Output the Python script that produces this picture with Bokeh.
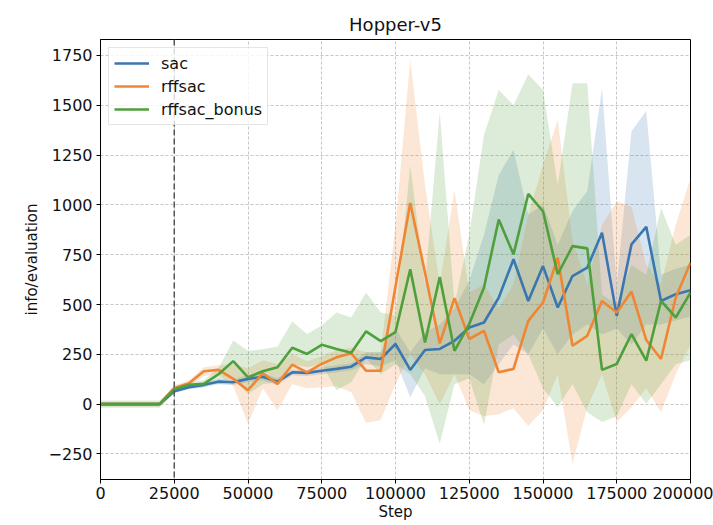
from bokeh.plotting import figure
from bokeh.models import Span, Range1d, FixedTicker
from bokeh.embed import file_html
from bokeh.resources import INLINE

TITLE = "Hopper-v5"
X_LABEL = "Step"
Y_LABEL = "info/evaluation"
WARMUP_STEP = 25000

STEPS = [0, 5000, 10000, 15000, 20000, 25000, 30000, 35000, 40000, 45000,
         50000, 55000, 60000, 65000, 70000, 75000, 80000, 85000, 90000, 95000,
         100000, 105000, 110000, 115000, 120000, 125000, 130000, 135000, 140000, 145000,
         150000, 155000, 160000, 165000, 170000, 175000, 180000, 185000, 190000, 195000,
         200000]

SERIES_NAMES = ["sac", "rffsac", "rffsac_bonus"]

SAC_MEAN = [0, 0, 0, 0, 0, 65, 85, 97, 113, 110,
            127, 138, 113, 160, 157, 168, 177, 188, 235, 227,
            302, 172, 272, 277, 318, 385, 410, 535, 727, 518,
            693, 485, 643, 685, 860, 443, 802, 890, 518, 552,
            572]
SAC_UPPER = [10, 10, 10, 10, 10, 75, 95, 110, 125, 125,
             145, 155, 130, 175, 172, 185, 195, 205, 260, 260,
             380, 260, 360, 400, 480, 620, 850, 1150, 1277, 950,
             1000, 800, 970, 1070, 1585, 600, 1370, 1472, 650, 680,
             700]
SAC_LOWER = [-10, -10, -10, -10, -10, 55, 75, 85, 100, 95,
             110, 120, 95, 145, 142, 150, 160, 170, 200, 190,
             220, 35, 180, 150, 150, 150, 100, 200, 300, 250,
             380, 250, 350, 400, 350, 380, 300, 400, 400, 420,
             440]

RFF_MEAN = [0, 0, 0, 0, 0, 80, 105, 165, 172, 127,
            70, 155, 102, 198, 160, 202, 235, 255, 168, 168,
            590, 1010, 660, 305, 532, 327, 368, 160, 177, 418,
            510, 735, 293, 343, 518, 460, 565, 322, 227, 535,
            710]
RFF_UPPER = [10, 10, 10, 10, 10, 95, 120, 185, 195, 200,
             180, 220, 200, 250, 215, 240, 270, 285, 260, 260,
             900, 1727, 1100, 600, 1075, 560, 600, 480, 600, 950,
             1200, 1427, 820, 600, 900, 1018, 990, 700, 600, 900,
             1135]
RFF_LOWER = [-10, -10, -10, -10, -10, 65, 90, 140, 150, 90,
             -98, 80, -30, 100, 80, 85, 90, 60, -95, -80,
             100, 250, 150, 0, 150, -30, -60, -50, -20, -110,
             -30, 150, -300, -15, 150, -90, -15, 80, -40, 150,
             300]

BONUS_MEAN = [0, 0, 0, 0, 0, 75, 97, 102, 150, 216,
              135, 165, 185, 283, 252, 298, 277, 258, 365, 316,
              362, 677, 310, 638, 268, 402, 585, 927, 752, 1055,
              968, 652, 793, 782, 172, 202, 352, 218, 518, 435,
              560]
BONUS_UPPER = [18, 18, 18, 18, 18, 90, 110, 120, 180, 320,
               268, 275, 290, 415, 352, 395, 460, 435, 560, 460,
               445, 1200, 600, 1468, 500, 850, 1352, 1577, 1500, 1655,
               1577, 1100, 1610, 1610, 550, 500, 700, 650, 985, 800,
               850]
BONUS_LOWER = [-18, -18, -18, -18, -18, 60, 80, 85, 115, 130,
               50, 100, 110, 200, 185, 200, 70, 110, 230, 150,
               200, 150, 40, -198, 100, 130, -105, 300, 350, 250,
               80, -15, 100, -40, -90, -60, 100, 2, 100, 200,
               220]

COLORS = ["#3a76b0", "#f08634", "#4f9f3c"]

X_TICKS = [0, 25000, 50000, 75000, 100000, 125000, 150000, 175000, 200000]
X_TICK_LABELS = ["0", "25000", "50000", "75000", "100000", "125000", "150000", "175000", "200000"]
Y_TICKS = [-250, 0, 250, 500, 750, 1000, 1250, 1500, 1750]
Y_TICK_LABELS = ["\u2212250", "0", "250", "500", "750", "1000", "1250", "1500", "1750"]

FONT = "DejaVu Sans"

p = figure(frame_width=590, frame_height=440,
           x_range=Range1d(0, 200000), y_range=Range1d(-378, 1830),
           output_backend="svg", toolbar_location=None, title=TITLE,
           min_border_left=100, min_border_right=23, min_border_top=39, min_border_bottom=44,
           background_fill_color="white", border_fill_color="white")

p.title.align = "center"
p.title.text_font = FONT
p.title.text_font_size = "18px"
p.title.text_font_style = "normal"
p.title.text_color = "#111111"
p.title.standoff = 10

series = [
    (SAC_MEAN, SAC_UPPER, SAC_LOWER),
    (RFF_MEAN, RFF_UPPER, RFF_LOWER),
    (BONUS_MEAN, BONUS_UPPER, BONUS_LOWER),
]

for (mean, upper, lower), color, name in zip(series, COLORS, SERIES_NAMES):
    p.varea(x=STEPS, y1=lower, y2=upper, fill_color=color, fill_alpha=0.2)
for (mean, upper, lower), color, name in zip(series, COLORS, SERIES_NAMES):
    p.line(x=STEPS, y=mean, line_color=color, line_width=2.6, legend_label=name)

p.add_layout(Span(location=WARMUP_STEP, dimension="height", line_color="#555555",
                  line_dash="6 3", line_width=1.5))

p.xaxis.ticker = FixedTicker(ticks=X_TICKS)
p.xaxis.major_label_overrides = dict(zip(X_TICKS, X_TICK_LABELS))
p.yaxis.ticker = FixedTicker(ticks=Y_TICKS)
p.yaxis.major_label_overrides = dict(zip(Y_TICKS, Y_TICK_LABELS))

p.xaxis.axis_label = X_LABEL
p.yaxis.axis_label = Y_LABEL
for ax in [p.xaxis, p.yaxis]:
    ax.axis_label_text_font = FONT
    ax.axis_label_text_font_size = "15px"
    ax.axis_label_text_font_style = "normal"
    ax.axis_label_text_color = "#111111"
    ax.major_label_text_font = FONT
    ax.major_label_text_font_size = "16px"
    ax.major_label_text_color = "#111111"
    ax.axis_line_color = "black"
    ax.major_tick_line_color = "black"
    ax.major_tick_out = 4
    ax.major_tick_in = 0
    ax.major_label_standoff = 4
    ax.minor_tick_line_color = None
    ax.axis_label_standoff = 5
p.xaxis.major_label_standoff = 3
p.xaxis.axis_label_standoff = 1

p.outline_line_color = "black"
p.outline_line_width = 1
p.outline_line_alpha = 1

p.grid.grid_line_color = "#b0b0b0"
p.grid.grid_line_dash = "3 2"
p.grid.grid_line_width = 0.8
p.grid.grid_line_alpha = 0.9

lg = p.legend[0]
lg.location = "top_left"
lg.margin = 8
lg.padding = 5
lg.spacing = 3
lg.glyph_width = 35
lg.glyph_height = 20
lg.label_height = 20
lg.label_standoff = 12
lg.label_text_font = FONT
lg.label_text_font_size = "16px"
lg.label_text_color = "#111111"
lg.border_line_color = "#cccccc"
lg.border_line_width = 1
lg.background_fill_alpha = 0.8

open("out.html", "w").write(file_html(p, INLINE))
